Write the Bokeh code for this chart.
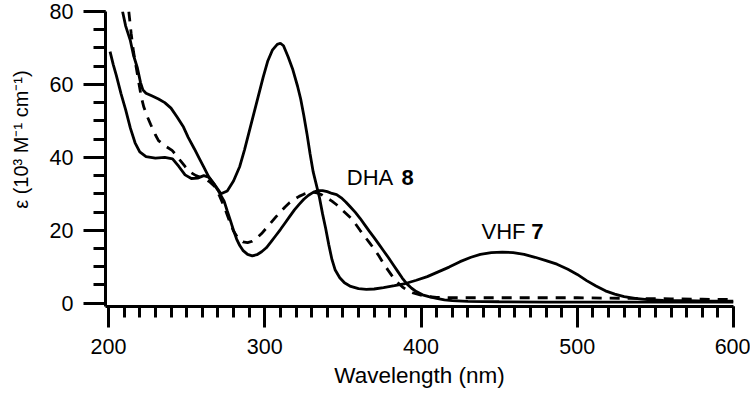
from bokeh.plotting import figure
from bokeh.models import Range1d, SingleIntervalTicker
from bokeh.core.properties import value
from bokeh.embed import file_html
from bokeh.resources import INLINE

# ---- data ----
vhf_nm = [201, 203, 205, 208, 211, 214, 217, 220, 224, 230, 236, 241, 245, 249, 253, 257, 261, 264, 268, 272,
          276, 280, 284, 287, 290, 293, 296, 299, 302, 305, 308, 310, 312, 315, 318, 321, 323, 325, 327, 329,
          331, 333, 335, 337, 339, 341, 343, 345, 348, 351, 355, 360, 365, 370, 376, 383, 390, 397, 404, 411,
          418, 425, 432, 438, 445, 452, 459, 466, 473, 480, 487, 494, 500, 506, 512, 518, 524, 530, 537, 545,
          555, 570, 585, 600]
vhf_eps = [69, 65.5, 62.5, 57.5, 53, 48, 44, 41.5, 40.2, 39.8, 40, 39.6, 37.5, 35.2, 34.2, 34.3, 35, 34.6, 32.5, 30,
           30.8, 33.5, 37.5, 42, 47, 52, 57, 62, 66.5, 69.5, 71, 71.3, 70.6, 67.5, 64, 59.5, 56, 51.5, 46.5, 41,
           36, 32.5, 29, 24.5, 20.5, 16, 12, 9.2, 7, 5.6, 4.6, 4, 3.8, 3.9, 4.3, 4.8, 5.4, 6.3, 7.3, 8.6,
           9.9, 11.4, 12.6, 13.4, 13.9, 14.0, 13.9, 13.4, 12.6, 11.7, 10.7, 9.3, 7.9, 6.2, 4.7, 3.4, 2.5, 1.8, 1.3, 1.0,
           0.8, 0.7, 0.6, 0.6]

dha_nm = [209, 211, 214, 216, 218.5, 220.5, 222, 224, 228, 232, 236, 240, 244, 248, 251, 255, 258, 261, 264, 267,
          270, 272, 274, 276, 278, 280, 282, 284, 286, 289, 292, 295, 298, 301, 304, 307, 310, 313, 316, 319,
          322, 325, 328, 331, 334, 337, 340, 343, 346, 349, 352, 355, 358, 361, 364, 367, 370, 373, 376, 379,
          382, 385, 388, 391, 394, 397, 401, 405, 410, 415, 420, 430, 450, 480, 520, 560, 600]
dha_eps = [80, 76, 72, 68, 64.5, 60.5, 58.5, 57.6, 56.8, 56, 55, 53.5, 51, 48.3, 45.5, 42.3, 39.8, 37.3, 34.8, 33,
           31, 29.5, 28, 25.3, 22.7, 20, 17.6, 15.8, 14.5, 13.4, 13, 13.3, 14.1, 15.2, 16.8, 18.5, 20.2, 22, 23.8, 25.6,
           27.1, 28.5, 29.6, 30.4, 30.9, 30.9, 30.6, 30.1, 29.8, 28.9, 27.7, 26.3, 24.9, 23.3, 21.5, 19.7, 18.0, 16.2, 14.4, 12.6,
           10.7, 8.8, 6.9, 5.3, 4.1, 3.2, 2.3, 1.8, 1.3, 0.9, 0.7, 0.5, 0.4, 0.3, 0.3, 0.3, 0.3]

dash_nm = [213, 214.5, 216, 218, 219.5, 221, 222.6, 225, 227, 230, 232, 236, 240.7, 243, 246, 249, 252.5, 256, 259, 262,
           265, 268, 271, 274, 277, 280, 283, 286, 289, 292, 295, 298, 301, 304, 307, 310, 313, 316, 319, 322,
           325, 328, 331, 334, 337, 340, 343, 346, 349, 352, 355, 358, 361, 364, 367, 370, 373, 376, 379, 382,
           385, 388, 391, 395, 400, 405, 410, 420, 440, 460, 480, 500, 520, 540, 560, 580, 600]
dash_eps = [80, 74, 69, 64, 60.2, 56.5, 53.8, 51, 49, 46.2, 44.6, 43.2, 41.9, 40.8, 39.1, 37.5, 35.9, 35, 34.5, 34,
            33.2, 32, 29.5, 26.5, 23, 19.8, 17.8, 16.8, 16.6, 17.0, 17.9, 19.1, 20.6, 22.1, 23.6, 25.0, 26.4, 27.6, 28.5, 29.3,
            29.9, 30.3, 30.5, 30.2, 29.6, 28.8, 28.0, 27.0, 25.8, 24.6, 23.4, 21.8, 20.0, 18.3, 16.6, 14.9, 13.0, 10.9, 9.0, 7.2,
            5.7, 4.5, 3.6, 2.8, 2.2, 1.8, 1.6, 1.5, 1.5, 1.5, 1.5, 1.5, 1.4, 1.3, 1.2, 1.1, 1.0]

label_names = ["DHA ", "VHF "]
label_numbers = ["8", "7"]
label_x = [352.5, 438.7]
label_y = [34.6, 19.7]
number_x = [387.5, 470.5]

x_title = "Wavelength (nm)"
y_title = "ε (10³ M⁻¹ cm⁻¹)"

FONT = "Liberation Sans"
NBSP = "\u00a0"

p = figure(width=750, height=394, output_backend="svg", toolbar_location=None,
           x_range=Range1d(198.08, 600), y_range=Range1d(-0.9, 80),
           min_border_left=105, min_border_right=17, min_border_top=11, min_border_bottom=88)
p.outline_line_color = None
p.grid.visible = False
p.background_fill_color = "white"
p.border_fill_color = "white"

p.xaxis.ticker = SingleIntervalTicker(interval=100, num_minor_ticks=10)
p.yaxis.ticker = SingleIntervalTicker(interval=20, num_minor_ticks=4)

for ax in (p.xaxis, p.yaxis):
    ax.axis_line_width = 3
    ax.axis_line_color = "black"
    ax.major_tick_line_width = 3
    ax.minor_tick_line_width = 3
    ax.major_tick_line_color = "black"
    ax.minor_tick_line_color = "black"
    ax.major_tick_in = 0
    ax.minor_tick_in = 0
    ax.major_label_text_font = FONT
    ax.major_label_text_font_size = "21.5px"
    ax.major_label_text_color = "black"
    ax.axis_label_text_font = FONT
    ax.axis_label_text_font_style = "normal"
    ax.axis_label_text_color = "black"

p.xaxis.major_tick_out = 21
p.xaxis.minor_tick_out = 11
p.yaxis.major_tick_out = 22
p.yaxis.minor_tick_out = 12
p.xaxis.major_label_standoff = 11
p.yaxis.major_label_standoff = 10

p.xaxis.axis_label = x_title
p.xaxis.axis_label_text_font_size = "22.5px"
p.xaxis.axis_label_standoff = 6

p.yaxis.axis_label = NBSP * 7 + y_title
p.yaxis.axis_label_text_font_size = "20px"
p.yaxis.axis_label_standoff = 15

p.line(vhf_nm, vhf_eps, line_color="black", line_width=2.8)
p.line(dha_nm, dha_eps, line_color="black", line_width=2.8)
p.line(dash_nm, dash_eps, line_color="black", line_width=2.8, line_dash="10 8")

p.text(x=label_x, y=label_y, text=label_names, text_font=value(FONT), text_font_size="22px",
       text_color="black", text_baseline="alphabetic", text_align="left")
p.text(x=number_x, y=label_y, text=label_numbers, text_font=value(FONT), text_font_size="22px",
       text_font_style="bold", text_color="black", text_baseline="alphabetic", text_align="left")

open("out.html", "w").write(file_html(p, INLINE))
